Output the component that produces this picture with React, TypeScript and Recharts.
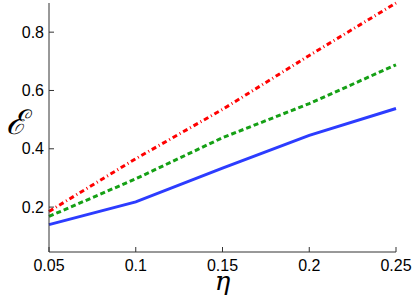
import { LineChart, Line, XAxis, YAxis } from "recharts";

const eta = [0.05, 0.1, 0.15, 0.2, 0.25];
const blueSeries = [0.14, 0.218, 0.334, 0.446, 0.538];
const greenSeries = [0.168, 0.297, 0.438, 0.555, 0.688];
const redSeries = [0.185, 0.366, 0.535, 0.72, 0.9];

const xTicks = [0.05, 0.1, 0.15, 0.2, 0.25];
const yTicks = [0.2, 0.4, 0.6, 0.8];

const data = eta.map((x, i) => ({
  x,
  blue: blueSeries[i],
  green: greenSeries[i],
  red: redSeries[i],
}));

const AXIS = "#333";
const tickFont = { fontSize: 16, fill: "#000", fontFamily: "Liberation Sans, Arial, sans-serif" };

export default function App() {
  return (
    <div style={{ width: 415, height: 299, background: "#fff" }}>
      <style>{`body{margin:0}`}</style>
      <LineChart width={415} height={299} data={data} margin={{ top: 3, right: 19, left: 0, bottom: 0 }}>
        <XAxis
          dataKey="x"
          type="number"
          domain={[0.05, 0.25]}
          ticks={xTicks}
          height={47}
          stroke={AXIS}
          tickSize={-5}
          tickMargin={13}
          tick={tickFont}
          tickFormatter={(v: number) => String(v)}
          label={{ value: "η", position: "insideBottom", offset: 9, fontSize: 26, fontStyle: "italic", fontFamily: "DejaVu Serif, serif", fill: "#000" }}
        />
        <XAxis
          xAxisId="top"
          orientation="top"
          dataKey="x"
          type="number"
          domain={[0.05, 0.25]}
          ticks={xTicks}
          height={0}
          stroke={AXIS}
          tickSize={-5}
          tickFormatter={() => ""}
        />
        <YAxis
          type="number"
          domain={[0.046, 0.9]}
          ticks={yTicks}
          width={49}
          stroke={AXIS}
          tickSize={-5}
          tickMargin={10}
          tick={tickFont}
          tickFormatter={(v: number) => String(v)}
          label={{ value: "ℰ", position: "insideLeft", offset: 6, dy: -6, fontSize: 34, fontStyle: "italic", fontFamily: "DejaVu Serif, serif", fill: "#000" }}
        />
        <YAxis
          yAxisId="right"
          orientation="right"
          type="number"
          domain={[0.046, 0.9]}
          ticks={yTicks}
          width={0}
          stroke={AXIS}
          tickSize={-5}
          tickFormatter={() => ""}
        />
        <Line dataKey="red" stroke="#ff0000" strokeWidth={3} strokeDasharray="5 3 1 3" dot={false} isAnimationActive={false} />
        <Line dataKey="green" stroke="#15a015" strokeWidth={3} strokeDasharray="5 3" dot={false} isAnimationActive={false} />
        <Line dataKey="blue" stroke="#2c3cff" strokeWidth={3} dot={false} isAnimationActive={false} />
      </LineChart>
    </div>
  );
}
